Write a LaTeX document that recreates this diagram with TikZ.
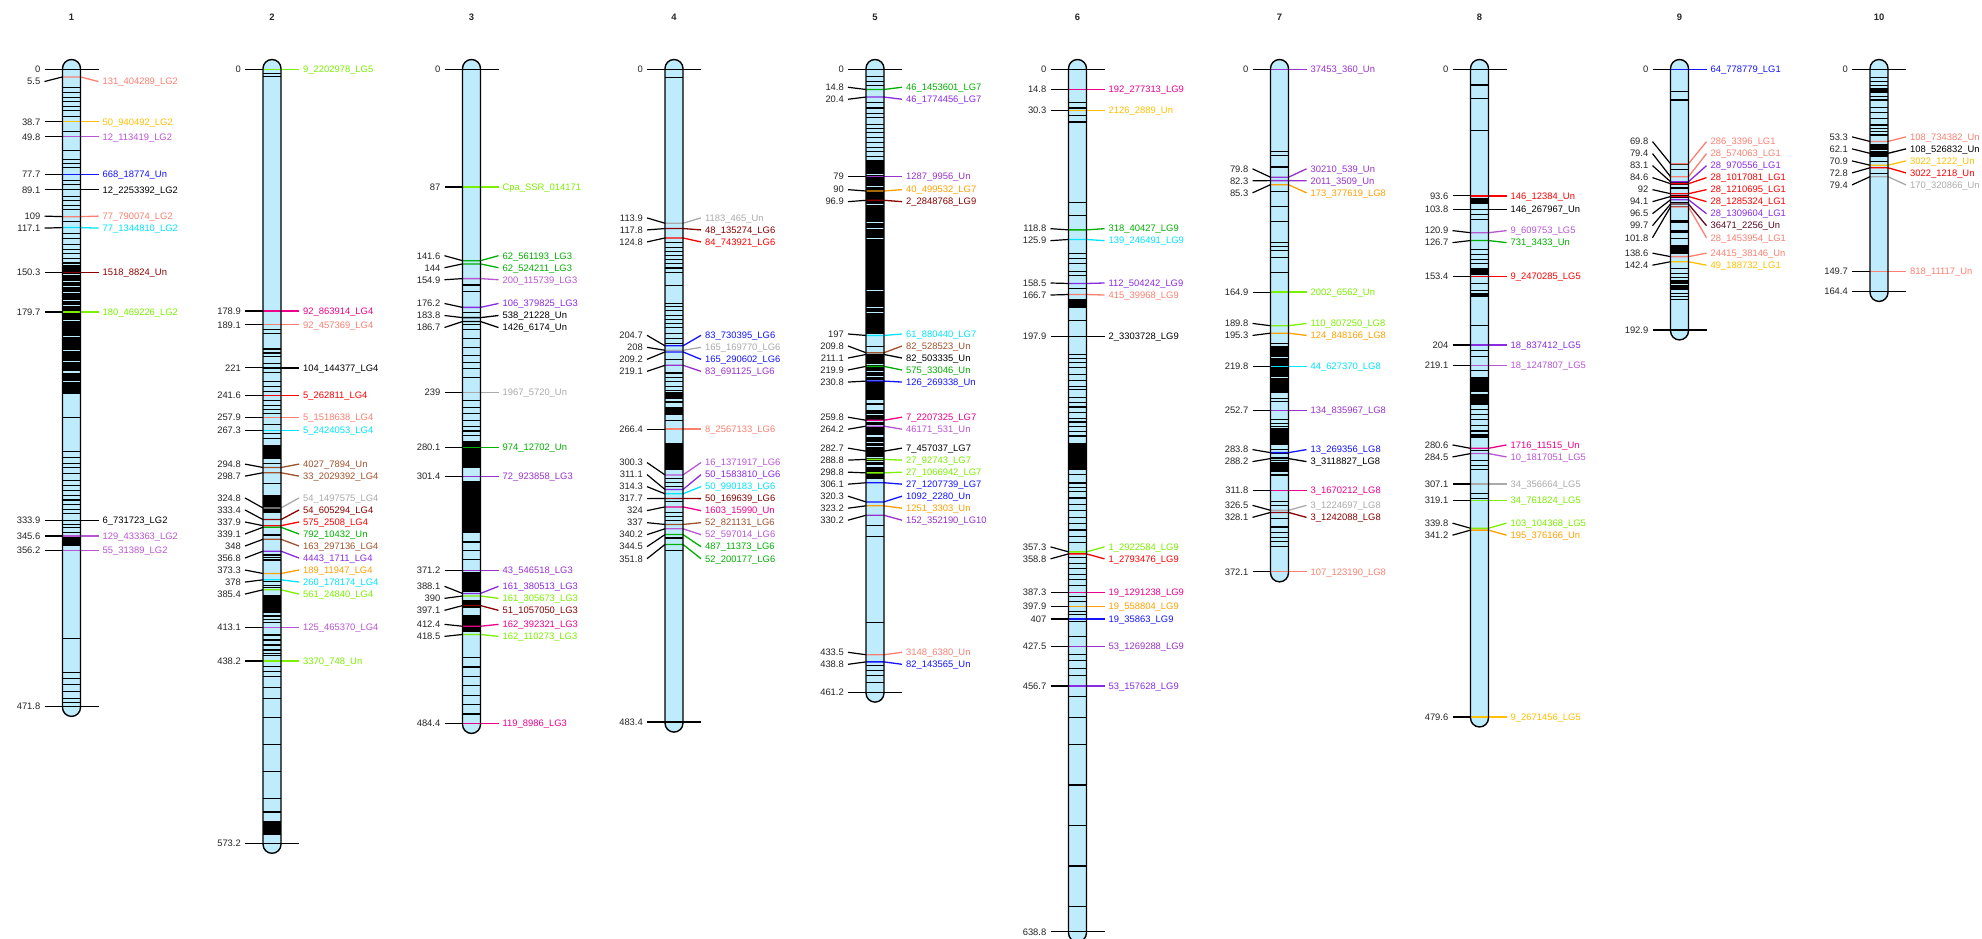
\documentclass[tikz,border=0pt]{standalone}
\usepackage{fontspec}
\setmainfont{Liberation Sans}
\definecolor{barfillc}{RGB}{190,236,252}
\definecolor{salmon}{RGB}{250,128,114}
\definecolor{gold}{RGB}{255,192,0}
\definecolor{orchid}{RGB}{186,85,211}
\definecolor{mblue}{RGB}{20,20,255}
\definecolor{mcyan}{RGB}{0,228,255}
\definecolor{dred}{RGB}{139,0,0}
\definecolor{lgreen}{RGB}{124,240,0}
\definecolor{mgreen}{RGB}{0,176,0}
\definecolor{sienna}{RGB}{160,82,45}
\definecolor{mgray}{RGB}{170,170,170}
\definecolor{bviolet}{RGB}{138,43,226}
\definecolor{orange}{RGB}{255,160,0}
\definecolor{dorchid}{RGB}{153,50,204}
\definecolor{dmaroon}{RGB}{90,10,30}
\tikzset{
  declare function={Y(\c)=69.5+1.35*\c;},
  tick/.style={line width=1.2pt,black},
  mline/.style={line width=1.3pt},
  band/.style={line width=1.1pt,black},
  gapl/.style={line width=1.1pt,draw=barfillc},
  barline/.style={line width=1.4pt,black},
  num/.style={font=\fontsize{9.4}{10}\selectfont,text=black!85,inner sep=0pt,anchor=east,text height=6.6pt,text depth=0pt},
  mname/.style={font=\fontsize{9.4}{10}\selectfont,inner sep=0pt,anchor=west,text height=6.6pt,text depth=0pt},
  ctitle/.style={font=\bfseries\fontsize{9.4}{10}\selectfont,text=black!85,inner sep=0pt},
}
\def\dd{8.9}
\newcount\mkc
\newcommand\chrom[3]{%
  \node[ctitle] (t#3) at (#1,17) {#3};
  \fill[barfillc,rounded corners=9pt] (#1-9,{Y(0)-10}) rectangle (#1+9,{Y(#2)+10});
}
\newcommand\chrborder[2]{\draw[barline,rounded corners=9pt] (#1-9,{Y(0)-10}) rectangle (#1+9,{Y(#2)+10});}
\newcommand\bl[2]{\foreach \b in {#2} {\draw[band] (#1-9,{Y(\b)}) -- (#1+9,{Y(\b)});}}
\newcommand\bk[2]{\foreach \a/\b in {#2} {\fill[black] (#1-9,{Y(\a)}) rectangle (#1+9,{Y(\b)});}}
\newcommand\bg[2]{\foreach \b in {#2} {\draw[gapl] (#1-9,{Y(\b)}) -- (#1+9,{Y(\b)});}}
\newcommand\mk[5]{%
  \global\advance\mkc by 1
  \draw[tick] (#1-27,{Y(#3)}) -- (#1-9,{Y(#2)});
  \draw[mline,draw=#5] (#1-9,{Y(#2)}) -- (#1+9,{Y(#2)}) -- (#1+27,{Y(#3)});
  \node[num] (n\the\mkc) at (#1-31,{Y(#3)}) {#2};
  \node[mname,text=#5] (m\the\mkc) at (#1+31,{Y(#3)}) {#4};
}
\newcommand\et[2]{%
  \global\advance\mkc by 1
  \draw[tick] (#1-27,{Y(#2)}) -- (#1+27,{Y(#2)});
  \node[num] (n\the\mkc) at (#1-31,{Y(#2)}) {#2};
}
\begin{document}
\catcode`\_=12
\begin{tikzpicture}[x=1pt,y=-1pt]
\useasboundingbox (0,0) rectangle (1982,939);
\fill[white] (0,0) rectangle (1982,939);
% ---------------- 1
\chrom{71.5}{471.8}{1}
\bl{71.5}{13.6,17.1,20.5,23.9,27.3,30.7,35.1,46,59.7,66.5,69.3,72.7,81.9,85.3,93.8,97.2,100.6,104,112.5,121.8,125.2,129.6,133,136.4,139.9,143.3,257.5,283.1,287.2,291.6,295,299.5,304.3,308,312.1,315.5,318.9,322.3,325.7,329.2,337,339.4,342.8,421.3,446.8,451.3,455.4,460.5,465.6,469}
\bk{71.5}{145/240,346/353}
\bg{71.5}{151.8,156.9,161,165.4,170.9,175,186,197.8,208,216.6,224.1,230.9}
\et{71.5}{0}
\mk{71.5}{5.5}{8.9}{131_404289_LG2}{salmon}
\mk{71.5}{38.7}{38.7}{50_940492_LG2}{gold}
\mk{71.5}{49.8}{49.8}{12_113419_LG2}{orchid}
\mk{71.5}{77.7}{77.7}{668_18774_Un}{mblue}
\mk{71.5}{89.1}{89.1}{12_2253392_LG2}{black}
\mk{71.5}{109}{113.05-0.5*\dd}{77_790074_LG2}{salmon}
\mk{71.5}{117.1}{113.05+0.5*\dd}{77_1344810_LG2}{mcyan}
\mk{71.5}{150.3}{150.3}{1518_8824_Un}{dred}
\mk{71.5}{179.7}{179.7}{180_469226_LG2}{lgreen}
\mk{71.5}{333.9}{333.9}{6_731723_LG2}{black}
\mk{71.5}{345.6}{345.6}{129_433363_LG2}{orchid}
\mk{71.5}{356.2}{356.2}{55_31389_LG2}{orchid}
\et{71.5}{471.8}
\chrborder{71.5}{471.8}
% ---------------- 2
\chrom{272}{573.2}{2}
\bl{272}{3,5.4,192.5,195.5,207,210,212.4,217.6,224.5,231.2,234.8,238.7,245.4,248.7,251.7,254.8,262.9,269.9,273.5,291.6,306.7,344.8,359.6,361.4,363.3,379.4,381.9,383.6,404.8,407.3,409.8,418.9,422.6,426.3,430,432.5,434.4,442.4,446,449.8,458,466,480,500,520,540,550}
\bk{272}{278/288.6,315.2/328.7,389.3/402.8,557/567}
\mk{272}{0}{0}{9_2202978_LG5}{lgreen}
\mk{272}{178.9}{178.9}{92_863914_LG4}{magenta}
\mk{272}{189.1}{189.1}{92_457369_LG4}{salmon}
\mk{272}{221}{221}{104_144377_LG4}{black}
\mk{272}{241.6}{241.6}{5_262811_LG4}{red}
\mk{272}{257.9}{257.9}{5_1518638_LG4}{salmon}
\mk{272}{267.3}{267.3}{5_2424053_LG4}{mcyan}
\mk{272}{294.8}{296.75-0.5*\dd}{4027_7894_Un}{sienna}
\mk{272}{298.7}{296.75+0.5*\dd}{33_2029392_LG4}{sienna}
\mk{272}{324.8}{352.97-4*\dd}{54_1497575_LG4}{mgray}
\mk{272}{333.4}{352.97-3*\dd}{54_605294_LG4}{dred}
\mk{272}{337.9}{352.97-2*\dd}{575_2508_LG4}{red}
\mk{272}{339.1}{352.97-\dd}{792_10432_Un}{mgreen}
\mk{272}{348}{352.97}{163_297136_LG4}{sienna}
\mk{272}{356.8}{352.97+\dd}{4443_1711_LG4}{bviolet}
\mk{272}{373.3}{352.97+2*\dd}{189_11947_LG4}{orange}
\mk{272}{378}{352.97+3*\dd}{260_178174_LG4}{mcyan}
\mk{272}{385.4}{352.97+4*\dd}{561_24840_LG4}{lgreen}
\mk{272}{413.1}{413.1}{125_465370_LG4}{orchid}
\mk{272}{438.2}{438.2}{3370_748_Un}{lgreen}
\et{272}{573.2}
\chrborder{272}{573.2}
% ---------------- 3
\chrom{471.5}{484.4}{3}
\bl{471.5}{159.6,164.3,180.3,183.4,186.6,189.2,192.4,199.4,205.7,212.1,216.9,221.7,228,245.5,250.3,255.1,259.9,264.6,267.8,271,350,356,363,435.7,442.6,449.6,456.5,463.5,470.5,477.4}
\bk{471.5}{275/295,305/343,372/387,393/399,404/417}
\et{471.5}{0}
\mk{471.5}{87}{87}{Cpa_SSR_014171}{lgreen}
\mk{471.5}{141.6}{146.83-\dd}{62_561193_LG3}{mgreen}
\mk{471.5}{144}{146.83}{62_524211_LG3}{mgreen}
\mk{471.5}{154.9}{146.83+\dd}{200_115739_LG3}{orchid}
\mk{471.5}{176.2}{182.23-\dd}{106_379825_LG3}{bviolet}
\mk{471.5}{183.8}{182.23}{538_21228_Un}{black}
\mk{471.5}{186.7}{182.23+\dd}{1426_6174_Un}{black}
\mk{471.5}{239}{239}{1967_5720_Un}{mgray}
\mk{471.5}{280.1}{280.1}{974_12702_Un}{mgreen}
\mk{471.5}{301.4}{301.4}{72_923858_LG3}{dorchid}
\mk{471.5}{371.2}{371.2}{43_546518_LG3}{dorchid}
\mk{471.5}{388.1}{391.73-\dd}{161_380513_LG3}{bviolet}
\mk{471.5}{390}{391.73}{161_305673_LG3}{lgreen}
\mk{471.5}{397.1}{391.73+\dd}{51_1057050_LG3}{dred}
\mk{471.5}{412.4}{415.45-0.5*\dd}{162_392321_LG3}{magenta}
\mk{471.5}{418.5}{415.45+0.5*\dd}{162_110273_LG3}{lgreen}
\mk{471.5}{484.4}{484.4}{119_8986_LG3}{magenta}
\chrborder{471.5}{484.4}
% ---------------- 4
\chrom{674}{483.4}{4}
\bl{674}{5.7,128,131.7,134.9,137.5,140.6,143.8,147,150.2,159.7,173.3,175.6,178.7,181.9,185.1,188.3,191.4,195.6,199.4,203.2,214.6,224.8,227.9,231.1,234.9,237.5,241.3,246.3,250.2,259.7,303,306,309,320,328,331,334,347,356}
\bk{674}{277/297,239/244,251/256}
\et{674}{0}
\mk{674}{113.9}{118.83-\dd}{1183_465_Un}{mgray}
\mk{674}{117.8}{118.83}{48_135274_LG6}{dred}
\mk{674}{124.8}{118.83+\dd}{84_743921_LG6}{red}
\mk{674}{204.7}{210.25-1.5*\dd}{83_730395_LG6}{mblue}
\mk{674}{208}{210.25-0.5*\dd}{165_169770_LG6}{mgray}
\mk{674}{209.2}{210.25+0.5*\dd}{165_290602_LG6}{mblue}
\mk{674}{219.1}{210.25+1.5*\dd}{83_691125_LG6}{dorchid}
\mk{674}{266.4}{266.4}{8_2567133_LG6}{salmon}
\mk{674}{300.3}{326.77-4*\dd}{16_1371917_LG6}{orchid}
\mk{674}{311.1}{326.77-3*\dd}{50_1583810_LG6}{bviolet}
\mk{674}{314.3}{326.77-2*\dd}{50_990183_LG6}{mcyan}
\mk{674}{317.7}{326.77-\dd}{50_169639_LG6}{dred}
\mk{674}{324}{326.77}{1603_15990_Un}{magenta}
\mk{674}{337}{326.77+\dd}{52_821131_LG6}{sienna}
\mk{674}{340.2}{326.77+2*\dd}{52_597014_LG6}{orchid}
\mk{674}{344.5}{326.77+3*\dd}{487_11373_LG6}{mgreen}
\mk{674}{351.8}{326.77+4*\dd}{52_200177_LG6}{mgreen}
\et{674}{483.4}
\chrborder{674}{483.4}
% ---------------- 5
\chrom{875}{461.2}{5}
\bl{875}{5.1,8.9,12,24.7,28.5,32.6,35.8,40.5,43.7,47,50.5,54,57.5,61,64.5,205,247.8,338,345.9,409.6,441.3,445.4,449.2,454}
\bk{875}{67/195.6,211.4/244.6,252.5/303.2}
\bg{875}{77.8,86.4,100,113.3,118,125.3,163.9,176.6,179.7,218.4,224,227.2,230.4,255.7,260.4,263.6,271.5,276.3,279.4,287.3,290.5,293.7,298.4}
\et{875}{0}
\mk{875}{14.8}{17.6-0.5*\dd}{46_1453601_LG7}{mgreen}
\mk{875}{20.4}{17.6+0.5*\dd}{46_1774456_LG7}{bviolet}
\mk{875}{79}{79}{1287_9956_Un}{dorchid}
\mk{875}{90}{93.45-0.5*\dd}{40_499532_LG7}{orange}
\mk{875}{96.9}{93.45+0.5*\dd}{2_2848768_LG9}{dred}
\mk{875}{197}{213.72-2*\dd}{61_880440_LG7}{mcyan}
\mk{875}{209.8}{213.72-\dd}{82_528523_Un}{sienna}
\mk{875}{211.1}{213.72}{82_503335_Un}{black}
\mk{875}{219.9}{213.72+\dd}{575_33046_Un}{mgreen}
\mk{875}{230.8}{213.72+2*\dd}{126_269338_Un}{mblue}
\mk{875}{259.8}{262-0.5*\dd}{7_2207325_LG7}{magenta}
\mk{875}{264.2}{262+0.5*\dd}{46171_531_Un}{orchid}
\mk{875}{282.7}{307.16-3*\dd}{7_457037_LG7}{black}
\mk{875}{288.8}{307.16-2*\dd}{27_92743_LG7}{lgreen}
\mk{875}{298.8}{307.16-\dd}{27_1066942_LG7}{lgreen}
\mk{875}{306.1}{307.16}{27_1207739_LG7}{mblue}
\mk{875}{320.3}{307.16+\dd}{1092_2280_Un}{mblue}
\mk{875}{323.2}{307.16+2*\dd}{1251_3303_Un}{orange}
\mk{875}{330.2}{307.16+3*\dd}{152_352190_LG10}{dorchid}
\mk{875}{433.5}{436.15-0.5*\dd}{3148_6380_Un}{salmon}
\mk{875}{438.8}{436.15+0.5*\dd}{82_143565_Un}{mblue}
\et{875}{461.2}
\chrborder{875}{461.2}
% ---------------- 6
\chrom{1077.5}{638.8}{6}
\bl{1077.5}{24.7,28.5,34.2,38.9,98.4,107.9,136.4,140.2,144,149.7,152.8,162,186.1,211.4,213.9,216.8,220.9,225.6,230.4,234.5,237.3,243,246.8,250,254.1,258.2,261.1,264.6,268.4,271.5,300,306.3,309.5,312.7,317.4,322.2,326.9,331.6,336.4,341.1,345.9,350.6,361.7,365.8,369.6,374.4,377.5,382.3,390.2,394.3,401.3,403.8,409.2,420.3,433,437.7,444,448.7,464.6,480,500,530,560,590,620}
\bk{1077.5}{170.3/176.6,276.3/296.9}
\et{1077.5}{0}
\mk{1077.5}{14.8}{14.8}{192_277313_LG9}{magenta}
\mk{1077.5}{30.3}{30.3}{2126_2889_Un}{gold}
\mk{1077.5}{118.8}{122.35-0.5*\dd}{318_40427_LG9}{mgreen}
\mk{1077.5}{125.9}{122.35+0.5*\dd}{139_246491_LG9}{mcyan}
\mk{1077.5}{158.5}{162.6-0.5*\dd}{112_504242_LG9}{bviolet}
\mk{1077.5}{166.7}{162.6+0.5*\dd}{415_39968_LG9}{salmon}
\mk{1077.5}{197.9}{197.9}{2_3303728_LG9}{black}
\mk{1077.5}{357.3}{358.05-0.5*\dd}{1_2922584_LG9}{lgreen}
\mk{1077.5}{358.8}{358.05+0.5*\dd}{1_2793476_LG9}{red}
\mk{1077.5}{387.3}{387.3}{19_1291238_LG9}{magenta}
\mk{1077.5}{397.9}{397.9}{19_558804_LG9}{orange}
\mk{1077.5}{407}{407}{19_35863_LG9}{mblue}
\mk{1077.5}{427.5}{427.5}{53_1269288_LG9}{dorchid}
\mk{1077.5}{456.7}{456.7}{53_157628_LG9}{bviolet}
\et{1077.5}{638.8}
\chrborder{1077.5}{638.8}
% ---------------- 7
\chrom{1279.5}{372.1}{7}
\bl{1279.5}{61,63.7,72.2,90.2,101.4,112.5,127.9,131.1,133.8,139.1,150.5,202.8,243.4,246,259.3,262,264.6,281.3,284.5,287.2,289.8,300.4,320.3,323,332.5,338.9,342.9,346.9,349.5,353.5}
\bk{1279.5}{204.9/239.4,265.9/277.9,291.1/297.8}
\bg{1279.5}{213,228}
\mk{1279.5}{0}{0}{37453_360_Un}{dorchid}
\mk{1279.5}{79.8}{82.47-\dd}{30210_539_Un}{dorchid}
\mk{1279.5}{82.3}{82.47}{2011_3509_Un}{dorchid}
\mk{1279.5}{85.3}{82.47+\dd}{173_377619_LG8}{orange}
\mk{1279.5}{164.9}{164.9}{2002_6562_Un}{lgreen}
\mk{1279.5}{189.8}{192.55-0.5*\dd}{110_807250_LG8}{lgreen}
\mk{1279.5}{195.3}{192.55+0.5*\dd}{124_848166_LG8}{orange}
\mk{1279.5}{219.8}{219.8}{44_627370_LG8}{mcyan}
\mk{1279.5}{252.7}{252.7}{134_835967_LG8}{dorchid}
\mk{1279.5}{283.8}{286-0.5*\dd}{13_269356_LG8}{mblue}
\mk{1279.5}{288.2}{286+0.5*\dd}{3_3118827_LG8}{black}
\mk{1279.5}{311.8}{311.8}{3_1670212_LG8}{magenta}
\mk{1279.5}{326.5}{327.3-0.5*\dd}{3_1224697_LG8}{mgray}
\mk{1279.5}{328.1}{327.3+0.5*\dd}{3_1242088_LG8}{dred}
\mk{1279.5}{372.1}{372.1}{107_123190_LG8}{salmon}
\chrborder{1279.5}{372.1}
% ---------------- 8
\chrom{1479.5}{479.6}{8}
\bl{1479.5}{11.5,21.3,45.2,107.4,111.3,133.6,136.8,140.8,144,158.8,163.7,189.9,207.9,212.8,223.2,252,255.3,259.2,263.5,267.8,282.2,289.7,293,296.2,314.2,317.5}
\bk{1479.5}{95/99.9,147.3/152.2,165.3/168.6,227.5/239,240.6/248.8,270/273}
\et{1479.5}{0}
\mk{1479.5}{93.6}{93.6}{146_12384_Un}{red}
\mk{1479.5}{103.8}{103.8}{146_267967_Un}{black}
\mk{1479.5}{120.9}{123.8-0.5*\dd}{9_609753_LG5}{orchid}
\mk{1479.5}{126.7}{123.8+0.5*\dd}{731_3433_Un}{mgreen}
\mk{1479.5}{153.4}{153.4}{9_2470285_LG5}{red}
\mk{1479.5}{204}{204}{18_837412_LG5}{bviolet}
\mk{1479.5}{219.1}{219.1}{18_1247807_LG5}{orchid}
\mk{1479.5}{280.6}{282.55-0.5*\dd}{1716_11515_Un}{magenta}
\mk{1479.5}{284.5}{282.55+0.5*\dd}{10_1817051_LG5}{orchid}
\mk{1479.5}{307.1}{307.1}{34_356664_LG5}{mgray}
\mk{1479.5}{319.1}{319.1}{34_761824_LG5}{lgreen}
\mk{1479.5}{339.8}{340.5-0.5*\dd}{103_104368_LG5}{lgreen}
\mk{1479.5}{341.2}{340.5+0.5*\dd}{195_376166_Un}{orange}
\mk{1479.5}{479.6}{479.6}{9_2671456_LG5}{gold}
\chrborder{1479.5}{479.6}
% ---------------- 9
\chrom{1679.5}{192.9}{9}
\bl{1679.5}{16.4,22.6,70.7,74.4,83.8,85.5,96.6,98.4,101.5,125.1,147.3,151,154.2,165.8,168.3,170.7}
\bk{1679.5}{86.8/88.7,92.9/95.4,111.5/114,118.9/121.4,130/137,155.9/163.3}
\bg{1679.5}{159}
\mk{1679.5}{0}{0}{64_778779_LG1}{mblue}
\mk{1679.5}{69.8}{89-4*\dd}{286_3396_LG1}{salmon}
\mk{1679.5}{79.4}{89-3*\dd}{28_574063_LG1}{salmon}
\mk{1679.5}{83.1}{89-2*\dd}{28_970556_LG1}{bviolet}
\mk{1679.5}{84.6}{89-\dd}{28_1017081_LG1}{red}
\mk{1679.5}{92}{89}{28_1210695_LG1}{red}
\mk{1679.5}{94.1}{89+\dd}{28_1285324_LG1}{red}
\mk{1679.5}{96.5}{89+2*\dd}{28_1309604_LG1}{bviolet}
\mk{1679.5}{99.7}{89+3*\dd}{36471_2256_Un}{dmaroon}
\mk{1679.5}{101.8}{89+4*\dd}{28_1453954_LG1}{salmon}
\mk{1679.5}{138.6}{140.5-0.5*\dd}{24415_38146_Un}{salmon}
\mk{1679.5}{142.4}{140.5+0.5*\dd}{49_188732_LG1}{gold}
\et{1679.5}{192.9}
\chrborder{1679.5}{192.9}
% ---------------- 10
\chrom{1879}{164.4}{10}
\bl{1879}{5.8,9,12,20.1,22.6,28,32,36.2,41.1,43.6,45.6,48.5,68.3,76.9,79.4}
\bk{1879}{13.9/17.6,55.2/64.6}
\bg{1879}{60.1}
\et{1879}{0}
\mk{1879}{53.3}{67.7-2*\dd}{108_734382_Un}{salmon}
\mk{1879}{62.1}{67.7-\dd}{108_526832_Un}{black}
\mk{1879}{70.9}{67.7}{3022_1222_Un}{gold}
\mk{1879}{72.8}{67.7+\dd}{3022_1218_Un}{red}
\mk{1879}{79.4}{67.7+2*\dd}{170_320866_Un}{mgray}
\mk{1879}{149.7}{149.7}{818_11117_Un}{salmon}
\et{1879}{164.4}
\chrborder{1879}{164.4}
\end{tikzpicture}
\end{document}
